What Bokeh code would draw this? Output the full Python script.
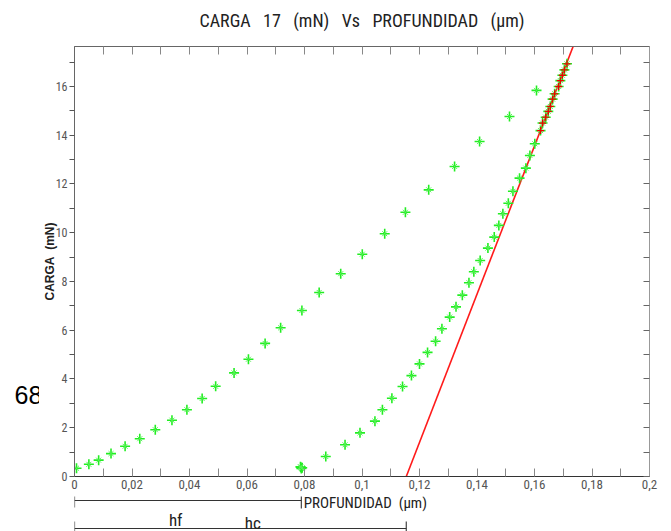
from bokeh.plotting import figure
from bokeh.layouts import row, column
from bokeh.models import (LinearAxis, FixedTicker, Label, Arrow, TeeHead, Range1d)
from bokeh.embed import file_html
from bokeh.resources import INLINE

# Nanoindentation test, peak load 17 mN
# loading branch: depth (µm), load (mN)
load_depth = [0.0007, 0.0050, 0.0084, 0.0127, 0.0176, 0.0227, 0.0281, 0.0339,
              0.0391, 0.0444, 0.0491, 0.0555, 0.0605, 0.0663, 0.0717, 0.0791,
              0.0851, 0.0926, 0.1001, 0.1079, 0.1151, 0.1232, 0.1322, 0.1409,
              0.1513, 0.1607]
load_force = [0.34, 0.50, 0.67, 0.94, 1.24, 1.55, 1.92, 2.31,
              2.74, 3.20, 3.70, 4.25, 4.81, 5.46, 6.10, 6.81,
              7.55, 8.32, 9.12, 9.96, 10.84, 11.76, 12.72, 13.74,
              14.77, 15.84]

# unloading branch
unload_depth = [0.1713, 0.1704, 0.1697, 0.1690, 0.1684, 0.1670, 0.1663, 0.1655,
                0.1648, 0.1639, 0.1628, 0.1621, 0.1601, 0.1584, 0.1570, 0.1548,
                0.1525, 0.1509, 0.1490, 0.1476, 0.1460, 0.1438, 0.1411, 0.1389,
                0.1372, 0.1349, 0.1327, 0.1305, 0.1278, 0.1256, 0.1228, 0.1200,
                0.1172, 0.1141, 0.1104, 0.1071, 0.1045, 0.0993, 0.0941, 0.0874,
                0.0792, 0.0787, 0.0789, 0.0786]
unload_force = [16.93, 16.68, 16.46, 16.24, 16.00, 15.70, 15.48, 15.18,
                14.98, 14.74, 14.50, 14.19, 13.65, 13.17, 12.65, 12.24,
                11.70, 11.21, 10.78, 10.30, 9.82, 9.37, 8.86, 8.40,
                7.95, 7.44, 6.96, 6.54, 6.06, 5.55, 5.09, 4.62,
                4.14, 3.69, 3.21, 2.74, 2.27, 1.79, 1.30, 0.82,
                0.36, 0.38, 0.33, 0.40]

# upper unloading points used for the stiffness fit
fit_depth = unload_depth[:12]
fit_force = unload_force[:12]

hf = 0.0789        # final depth (µm)
hc = 0.1154        # contact depth, intercept of the fit line (µm)
stiffness = 304.0  # slope of the fit line (mN/µm)

x_major = [0.0, 0.02, 0.04, 0.06, 0.08, 0.1, 0.12, 0.14, 0.16, 0.18, 0.2]
x_minor = [0.01, 0.03, 0.05, 0.07, 0.09, 0.11, 0.13, 0.15, 0.17, 0.19]
x_labels = ["0", "0,02", "0,04", "0,06", "0,08", "0,1", "0,12", "0,14",
            "0,16", "0,18", "0,2"]
y_major = [0, 2, 4, 6, 8, 10, 12, 14, 16]
y_minor = [1, 3, 5, 7, 9, 11, 13, 15, 17]
y_labels = ["0", "2", "4", "6", "8", "10", "12", "14", "16"]

NARROW = "Roboto Condensed"
REG = "Liberation Sans"
SP = "\u00a0\u00a0 "   # wide word gap

# ---------------- main chart ----------------
p = figure(width=632, height=496, output_backend="svg", toolbar_location=None,
           x_range=Range1d(0, 0.2), y_range=Range1d(0, 17.64),
           min_border_left=35, min_border_right=22, min_border_top=46,
           min_border_bottom=20)
p.xgrid.visible = False
p.ygrid.visible = False
p.outline_line_color = "#777777"
p.background_fill_color = "white"
p.border_fill_color = "white"

# bottom axis
xa = p.xaxis[0]
xa.ticker = FixedTicker(ticks=x_major, minor_ticks=x_minor)
xa.major_label_overrides = dict(zip(x_major, x_labels))
xa.major_tick_in = 8
xa.major_tick_out = 0
xa.minor_tick_in = 8
xa.minor_tick_out = 0
xa.major_tick_line_color = "#888888"
xa.minor_tick_line_color = "#888888"
xa.axis_line_color = "#333333"
xa.major_label_standoff = 3
xa.major_label_text_font = NARROW
xa.major_label_text_font_size = "13px"
xa.major_label_text_color = "#555555"

# left axis
ya = p.yaxis[0]
ya.ticker = FixedTicker(ticks=y_major, minor_ticks=y_minor)
ya.major_label_overrides = dict(zip(y_major, y_labels))
ya.major_tick_in = 0
ya.major_tick_out = 5
ya.minor_tick_in = 0
ya.minor_tick_out = 5
ya.major_tick_line_color = "#555555"
ya.minor_tick_line_color = "#555555"
ya.axis_line_color = "#666666"
ya.major_label_standoff = 2
ya.major_label_text_font = NARROW
ya.major_label_text_font_size = "12px"
ya.major_label_text_color = "#555555"
ya.axis_label = "CARGA\u00a0\u00a0(mN)"
ya.axis_label_text_font = REG
ya.axis_label_text_font_style = "bold"
ya.axis_label_text_font_size = "12px"
ya.axis_label_text_color = "#222222"
ya.axis_label_standoff = -4

# inner ticks on the top and right edges of the frame
top = LinearAxis(ticker=FixedTicker(ticks=x_major + x_minor),
                 major_tick_in=8, major_tick_out=0, minor_tick_in=0,
                 minor_tick_out=0, major_label_text_font_size="0px",
                 major_tick_line_color="#888888", axis_line_color="#666666")
p.add_layout(top, "above")
right = LinearAxis(ticker=FixedTicker(ticks=y_major + y_minor),
                   major_tick_in=6, major_tick_out=0, minor_tick_in=0,
                   minor_tick_out=0, major_label_text_font_size="0px",
                   major_tick_line_color="#666666", axis_line_color="#999999")
p.add_layout(right, "right")

# fitted unloading line
line_x = [hc, hc + 18.5 / stiffness]
line_y = [0, stiffness * (line_x[1] - hc)]
p.line(line_x, line_y, line_color="#ff1a1a", line_width=1.6)

# measured points: a bold "+" with thin diagonals
for xs, ys in ((load_depth, load_force), (unload_depth, unload_force)):
    p.scatter(xs, ys, marker="cross", size=10, line_color="#22ee22", line_width=1.6)
    p.scatter(xs, ys, marker="x", size=7, line_color="#55f055", line_width=1.0)
p.scatter(fit_depth, fit_force, marker="cross", size=7,
          line_color="#ee0000", line_width=1.3)

# title in the top margin
p.add_layout(Label(x=0.1, y=20, x_units="data", y_units="canvas",
                   text="CARGA" + SP + "17" + SP + "(mN)" + SP + "Vs" + SP +
                        "PROFUNDIDAD" + SP + "(µm)",
                   text_align="center", text_baseline="middle",
                   text_font=NARROW, text_font_size="18px",
                   text_color="#222222"), "above")

# ---------------- depth dimensions under the chart ----------------
dim = figure(width=632, height=35, output_backend="svg", toolbar_location=None,
             x_range=p.x_range, y_range=Range1d(35, 0),
             x_axis_type=None, y_axis_type=None,
             min_border_left=35, min_border_right=22, min_border_top=0,
             min_border_bottom=0)
dim.xgrid.visible = False
dim.ygrid.visible = False
dim.outline_line_color = None
dim.add_layout(Arrow(start=TeeHead(size=14, line_color="#444444", line_width=1.2),
                     end=TeeHead(size=16, line_color="#444444", line_width=1.2),
                     x_start=0, y_start=4, x_end=hf, y_end=4,
                     line_color="#333333", line_width=1))
dim.add_layout(Arrow(start=TeeHead(size=14, line_color="#444444", line_width=1.2),
                     end=TeeHead(size=14, line_color="#444444", line_width=1.2),
                     x_start=0, y_start=32, x_end=hc, y_end=32,
                     line_color="#333333", line_width=1))
dim.add_layout(Label(x=hf + 0.0008, y=6, text="PROFUNDIDAD\u00a0\u00a0(µm)",
                     text_align="left", text_baseline="middle", text_font=NARROW,
                     text_font_size="15px", text_color="#222222"))
dim.add_layout(Label(x=0.0352, y=23, text="hf", text_align="center",
                     text_baseline="middle", text_font=NARROW,
                     text_font_size="17px", text_color="#222222"))
dim.add_layout(Label(x=0.062, y=26, text="hc", text_align="center",
                     text_baseline="middle", text_font=NARROW,
                     text_font_size="17px", text_color="#222222"))

# ---------------- sample number strip on the left ----------------
tag = figure(width=39, height=531, output_backend="svg", toolbar_location=None,
             x_range=Range1d(0, 39), y_range=Range1d(531, 0),
             x_axis_type=None, y_axis_type=None, min_border=0)
tag.xgrid.visible = False
tag.ygrid.visible = False
tag.outline_line_color = None
tag.add_layout(Label(x=14, y=394, text="68", text_align="left",
                     text_baseline="middle", text_font=REG,
                     text_font_size="25px", text_color="black"))

layout = row(tag, column(p, dim))
open("out.html", "w").write(file_html(layout, INLINE))
